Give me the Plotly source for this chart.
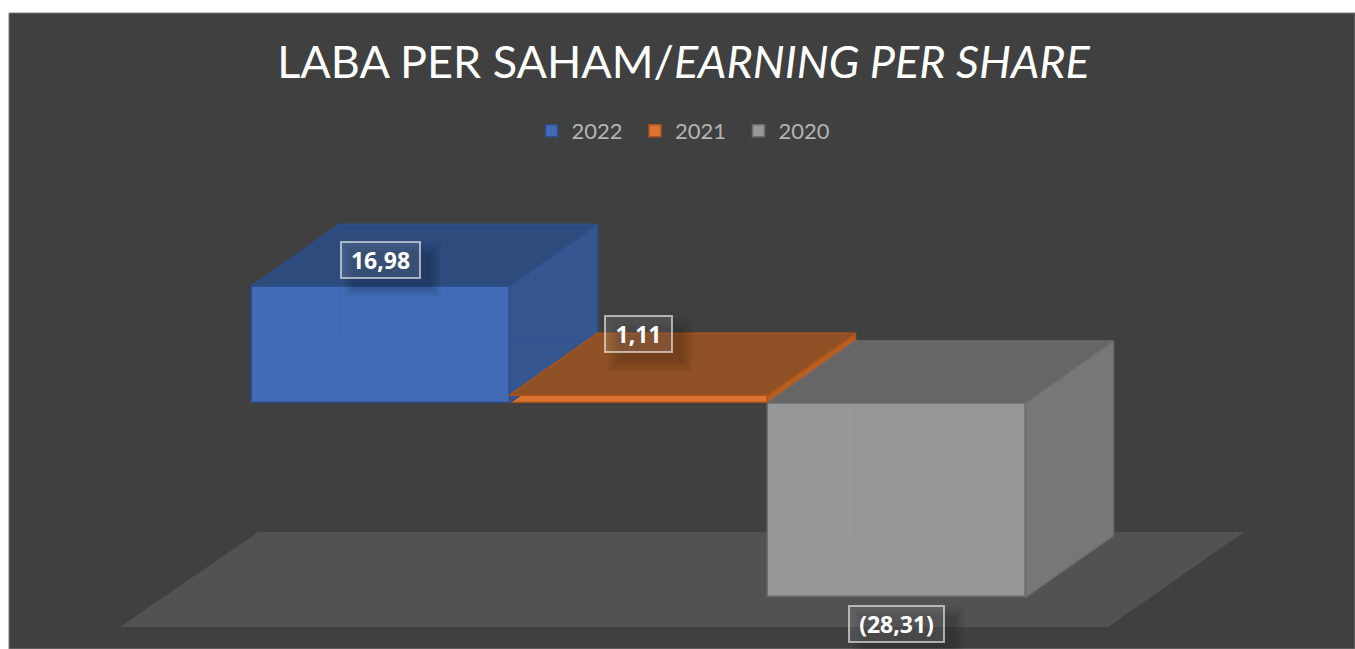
import plotly.graph_objects as go

# --- data ---
years = ["2022", "2021", "2020"]
eps_values = [16.98, 1.11, -28.31]
value_labels = ["16,98", "1,11", "(28,31)"]

# --- styles ---
title_text = "LABA PER SAHAM/<i>EARNING PER SHARE</i>"
front_colors = ["#416CB5", "#DD7330", "#979797"]
top_colors = ["#2D4B7D", "#8F5125", "#666666"]
side_colors = ["#35568F", "#B75E22", "#777777"]
edge_colors = ["#2C4F8C", "#A9521A", "#6C6C6C"]
hidden_edge = ["rgba(47,82,143,0.20)", "rgba(0,0,0,0)", "rgba(120,120,120,0.06)"]
label_offsets = [3.8, 8.9, -3.8]
label_widths = [75, 63, 91]

W, H = 1355, 649
L, T = 9, 13
X_ZERO_PX, X_UNIT = 380.5, 258.0   # centre of first bar, px per category
Y_ZERO_PX, Y_UNIT = 403.0, 6.87    # px of value 0, px per value unit
DX = 88 / X_UNIT                   # bar depth in axis units
DY = 62 / Y_UNIT

x_range = [(L - X_ZERO_PX) / X_UNIT, (W - X_ZERO_PX) / X_UNIT]
y_range = [(Y_ZERO_PX - H) / Y_UNIT, (Y_ZERO_PX - T) / Y_UNIT]

fig = go.Figure()


def polygon(xs, ys, fill, line):
    fig.add_trace(go.Scatter(x=xs + xs[:1], y=ys + ys[:1], mode="lines", fill="toself",
                             fillcolor=fill, line=dict(color=line, width=1.5),
                             showlegend=False, hoverinfo="skip"))


for i, (year, v) in enumerate(zip(years, eps_values)):
    fig.add_trace(go.Bar(x=[i], y=[v], width=1, name=year,
                         marker=dict(color=front_colors[i],
                                     line=dict(color=edge_colors[i], width=1.5)),
                         hoverinfo="skip"))

for i, v in enumerate(eps_values):
    top, bot = max(v, 0), min(v, 0)
    x0, x1 = i - 0.5, i + 0.5
    polygon([x0, x1, x1 + DX, x0 + DX], [top, top, top + DY, top + DY],
            top_colors[i], edge_colors[i])
    polygon([x1, x1 + DX, x1 + DX, x1], [top, top + DY, bot + DY, bot],
            side_colors[i], edge_colors[i])
    # faint hidden back edges seen through the translucent box
    fig.add_trace(go.Scatter(x=[x0 + DX, x0 + DX, x1 + DX, None, x0 + DX, x0],
                             y=[top + DY, bot + DY, bot + DY, None, bot + DY, bot],
                             mode="lines", line=dict(color=hidden_edge[i], width=1),
                             showlegend=False, hoverinfo="skip"))

annotations = []
shadows = []
for i, v in enumerate(eps_values):
    cy = v + label_offsets[i]
    annotations.append(dict(x=i, y=cy, xref="x", yref="y",
                            text=value_labels[i], showarrow=False, width=label_widths[i], height=32,
                            align="center", valign="middle",
                            font=dict(family="Open Sans", size=23, color="#FFFFFF", weight="bold"),
                            bgcolor="rgba(255,255,255,0.10)",
                            bordercolor="rgba(235,235,235,0.65)", borderwidth=2, borderpad=1))
    # soft drop shadow below and right of the label
    hw = (label_widths[i] / 2 + 1) / X_UNIT
    hh = 17 / Y_UNIT
    for grow in (10, 8, 6, 4, 2, 0):
        g = grow / X_UNIT
        gy = grow / Y_UNIT
        shadows.append(dict(type="rect", layer="above", xref="x", yref="y",
                            x0=i - hw + 12 / X_UNIT - g, x1=i + hw + 12 / X_UNIT + g,
                            y0=cy - hh - 10 / Y_UNIT - gy, y1=cy + hh - 10 / Y_UNIT + gy,
                            fillcolor="rgba(0,0,0,0.03)", line=dict(width=0)))

fig.update_layout(
    width=W, height=H, autosize=False,
    margin=dict(l=L, r=0, t=T, b=0, pad=0),
    paper_bgcolor="#FFFFFF", plot_bgcolor="#404040",
    barmode="overlay", bargap=0,
    title=dict(text=title_text, x=683.5 / W, xanchor="center", xref="container",
               y=1 - 62 / H, yanchor="middle",
               font=dict(family="Lato", size=45, color="#FFFFFF")),
    legend=dict(orientation="h", x=(687 - L) / (W - L), xanchor="center",
                y=1 - (131 - T) / (H - T), yanchor="middle", bgcolor="rgba(0,0,0,0)",
                entrywidth=58.5, entrywidthmode="pixels",
                font=dict(family="Lato", size=22, color="#B4B4B4"), traceorder="normal"),
    xaxis=dict(range=x_range, visible=False, fixedrange=True),
    yaxis=dict(range=y_range, visible=False, fixedrange=True),
    annotations=annotations,
    shapes=[dict(type="path", layer="below", xref="x", yref="y",
                 path="M {} {} L {} {} L {} {} L {} {} Z".format(
                     (120 - X_ZERO_PX) / X_UNIT, (Y_ZERO_PX - 627) / Y_UNIT,
                     (1108 - X_ZERO_PX) / X_UNIT, (Y_ZERO_PX - 627) / Y_UNIT,
                     (1244 - X_ZERO_PX) / X_UNIT, (Y_ZERO_PX - 532) / Y_UNIT,
                     (258 - X_ZERO_PX) / X_UNIT, (Y_ZERO_PX - 532) / Y_UNIT),
                 fillcolor="#535252", line=dict(width=0)),
            dict(type="rect", layer="below", xref="paper", yref="paper", x0=0, x1=1, y0=0, y1=1,
                 line=dict(color="#7A7A7A", width=1), fillcolor="rgba(0,0,0,0)")] + shadows,
)

fig.write_html("out.html", post_script="document.body.style.margin='0';", config=dict(displayModeBar=False))
